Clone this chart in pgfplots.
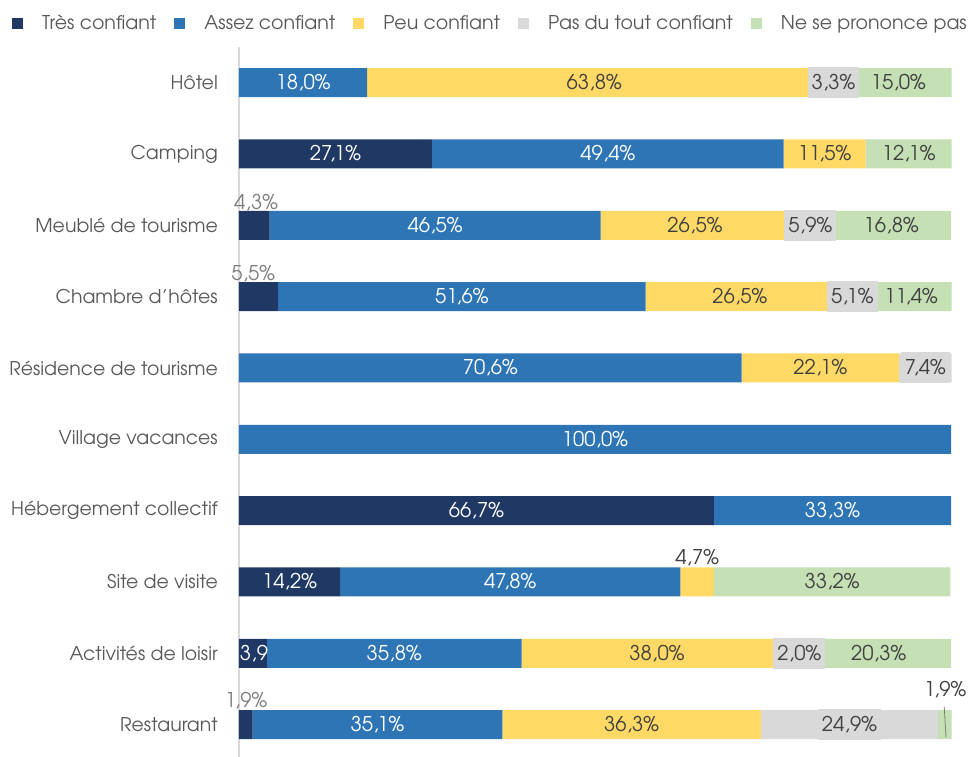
\documentclass[border=0pt]{standalone}
\usepackage{pgfplots}
\usepackage{pgfplotstable}
\pgfplotsset{compat=1.18}
\usepackage{fontspec}
\setmainfont{texgyreadventor-regular.otf}
\definecolor{cT}{HTML}{1F3864}
\definecolor{cA}{HTML}{2E75B6}
\definecolor{cP}{HTML}{FFD966}
\definecolor{cD}{HTML}{D9D9D9}
\definecolor{cN}{HTML}{C5E0B4}
\definecolor{txt}{HTML}{595959}
\definecolor{lab}{HTML}{404040}
\definecolor{olab}{HTML}{7F7F7F}
\newcommand\fs{\fontsize{18.9}{22}\selectfont}
\newcommand\fl{\fontsize{19}{22}\selectfont}
\newcommand\fd{\fontsize{20.3}{24}\selectfont}

\pgfplotstableread{
y T A P D N
0 0 18.0 63.8 3.3 15.0
1 27.1 49.4 11.5 0 12.1
2 4.3 46.5 26.5 5.9 16.8
3 5.5 51.6 26.5 5.1 11.4
4 0 70.6 22.1 7.4 0
5 0 100 0 0 0
6 66.7 33.3 0 0 0
7 14.2 47.8 4.7 0 33.2
8 3.9 35.8 38.0 2.0 20.3
9 1.9 35.1 36.3 24.9 1.9
}\data

% white labels (centre x, category, text)
\pgfplotstableread{
x y l
9.0 0 18,0
13.55 1 27,1
51.8 1 49,4
27.55 2 46,5
31.3 3 51,6
35.3 4 70,6
50 5 100,0
33.35 6 66,7
83.35 6 33,3
7.1 7 14,2
38.1 7 47,8
21.8 8 35,8
19.45 9 35,1
}\wlab

% dark labels on light segments
\pgfplotstableread{
x y l
49.9 0 63,8
92.6 0 15,0
82.25 1 11,5
94.05 1 12,1
64.05 2 26,5
91.6 2 16,8
70.35 3 26,5
94.4 3 11,4
81.65 4 22,1
83.3 7 33,2
58.7 8 38,0
89.85 8 20,3
55.15 9 36,3
}\dlab

% boxed labels of the grey series
\pgfplotstableread{
x y l
83.5 0 3,3
80.25 2 5,9
86.15 3 5,1
96.4 4 7,4
78.7 8 2,0
85.75 9 24,9
}\blab

% outside labels (light)
\pgfplotstableread{
x y l
2.4 1.68 4,3
2.0 2.68 5,5
1.0 8.66 1,9
}\olabt

% outside labels (dark)
\pgfplotstableread{
x y l
64.35 6.66 4,7
99.2 8.51 1,9
}\dlabo

\pgfplotstableread{
x y l
2.1 8 3,9
}\clab

\pgfplotsset{
  common/.style={
    at={(239pt,709pt)}, anchor=north west,
    scale only axis, width=712pt, height=713.3pt,
    xmin=0, xmax=100, ymin=-0.5, ymax=9.5,
    enlargelimits=false, y dir=reverse, clip=false,
  },
  lbl/.style={only marks, mark=none, point meta=explicit symbolic,
    nodes near coords={\pgfplotspointmeta\%},
    nodes near coords style={font=\fd, anchor=center, text=#1}},
}

\begin{document}
\begin{tikzpicture}[x=1pt,y=1pt]
\useasboundingbox (0,0) rectangle (970,756);
\begin{axis}[
  common,
  xbar stacked, bar width=29pt,
  axis x line=none, axis y line*=left,
  y axis line style={draw=cD, line width=1.2pt, -},
  ytick={0,...,9}, ytick style={draw=none},
  yticklabels={H\^otel,Camping,Meubl\'e de tourisme,Chambre d'h\^otes,R\'esidence de tourisme,Village vacances,H\'ebergement collectif,Site de visite,Activit\'es de loisir,Restaurant},
  yticklabel style={font=\fs, text=txt, inner sep=0pt, xshift=-21pt},
  legend columns=5,
  legend style={at={(axis description cs:-0.3188,1.0336)}, anchor=west, draw=none, fill=none,
    font=\fl, text=txt, inner sep=0pt,
    /tikz/every odd column/.append style={column sep=0pt},
    /tikz/every even column/.append style={column sep=16pt}},
  legend image code/.code={\fill[#1] (0pt,-5.5pt) rectangle (11pt,5.5pt); \path[draw=none,fill=none] (0pt,-1pt) rectangle (28pt,1pt);},
]
\addplot[fill=cT, draw=none] table[x=T,y=y]{\data};
\addlegendentry{Très confiant}
\addplot[fill=cA, draw=none] table[x=A,y=y]{\data};
\addlegendentry{Assez confiant}
\addplot[fill=cP, draw=none] table[x=P,y=y]{\data};
\addlegendentry{Peu confiant}
\addplot[fill=cD, draw=none] table[x=D,y=y]{\data};
\addlegendentry{Pas du tout confiant}
\addplot[fill=cN, draw=none] table[x=N,y=y]{\data};
\addlegendentry{Ne se prononce pas}
\end{axis}
\begin{axis}[common, hide axis]
\addplot[lbl=white] table[x=x,y=y,meta=l]{\wlab};
\addplot[lbl=lab] table[x=x,y=y,meta=l]{\dlab};
\addplot[lbl=lab, nodes near coords style={fill=cD, minimum height=31pt, inner xsep=4pt}]
  table[x=x,y=y,meta=l]{\blab};
\addplot[lbl=olab] table[x=x,y=y,meta=l]{\olabt};
\addplot[lbl=lab] table[x=x,y=y,meta=l]{\dlabo};
\addplot[lbl=white, nodes near coords={\pgfplotspointmeta}] table[x=x,y=y,meta=l]{\clab};
\draw[olab, line width=0.8pt] (axis cs:99.05,8.75) -- (axis cs:99.3,9.18);
\end{axis}
\end{tikzpicture}
\end{document}
